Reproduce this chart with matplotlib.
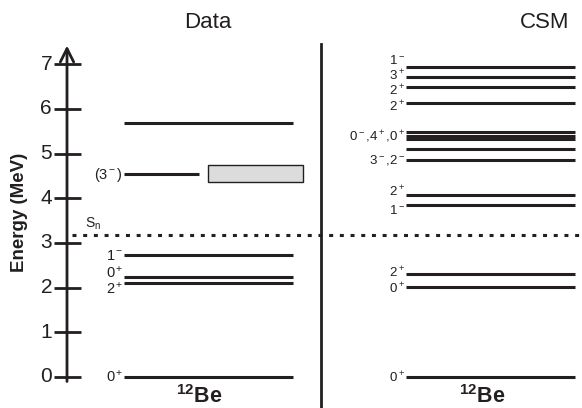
import matplotlib.pyplot as plt
from matplotlib.patches import Rectangle

plt.rcParams['font.family'] = ['Liberation Sans', 'DejaVu Sans']
plt.rcParams['mathtext.fontset'] = 'custom'
plt.rcParams['mathtext.rm'] = 'Liberation Sans'
plt.rcParams['mathtext.it'] = 'Liberation Sans:italic'
plt.rcParams['mathtext.bf'] = 'Liberation Sans:bold'

# measured levels of 12Be (MeV)
data_energy = [0.0, 2.10, 2.23, 2.72, 4.54, 5.69]
data_tags = ['0$^+$', '2$^+$', '0$^+$', '1$^-$', '(3$^-$)', '']
data_band = (4.36, 4.75)   # broad state drawn as a box

# CSM calculation (MeV)
csm_energy = [0.0, 2.01, 2.31, 3.86, 4.08, 4.85, 5.10, 5.33, 5.40, 5.48,
              6.13, 6.50, 6.72, 6.93]
csm_tags = ['0$^+$', '0$^+$', '2$^+$', '1$^-$', '2$^+$', '3$^-$,2$^-$',
            '0$^-$,4$^+$,0$^+$', '2$^+$', '2$^+$', '3$^+$', '1$^-$']
csm_tag_energy = [0.0, 2.01, 2.31, 3.86, 4.08, 4.85, 5.33, 6.13, 6.50, 6.72, 6.93]

s_n = 3.17
yticks = [0, 1, 2, 3, 4, 5, 6, 7]

# layout (pixels)
data_tag_drop = [5, 10, 0, 5, 5, 0]
csm_tag_drop = [5, 6, 4, 9, 2, 3, 2, 8, 9, 4, -3]
px_per_mev = 44.67
zero_px = 377

fig = plt.figure(figsize=(5.82, 4.08), dpi=100)
ax = fig.add_axes([0, 0, 1, 1])
ax.set_xlim(0, 582)
ax.set_ylim(-(408 - zero_px) / px_per_mev, zero_px / px_per_mev)
ax.axis('off')

lw = 2.2

# energy axis with arrow
ax.annotate('', xy=(67, 7.42), xytext=(67, -0.1),
            arrowprops=dict(arrowstyle='->', lw=2, color='#231f20',
                            mutation_scale=24, shrinkA=0, shrinkB=0))
for t in yticks:
    ax.plot([54, 81], [t, t], color='#231f20', lw=2, solid_capstyle='butt')
    ax.text(52, t, str(t), ha='right', va='center', fontsize=15, color='#231f20')
ax.text(20, 3.68, 'Energy (MeV)', rotation=90, ha='center', va='center',
        fontsize=13.5, fontweight='bold', color='#231f20')

# divider
ax.plot([321, 321], [-1, 7.45], color='#231f20', lw=2)

# neutron threshold
ax.plot([72, 582], [s_n, s_n], color='#231f20', lw=lw, linestyle=(0, (1.3, 2.2)))
ax.text(85, 3.34, 'S$_\\mathrm{n}$', ha='left', va='baseline', fontsize=10,
        color='#231f20')

# data column
for e, tag, drop in zip(data_energy, data_tags, data_tag_drop):
    x1 = 199 if tag.startswith('(') else 293
    ax.plot([124, x1], [e, e], color='#231f20', lw=lw, solid_capstyle='butt')
    if tag:
        ax.annotate(tag, (123, e), xytext=(0, -drop), textcoords='offset pixels',
                    ha='right', va='baseline', fontsize=10.5, color='#231f20')
ax.add_patch(Rectangle((208, data_band[0]), 95, data_band[1] - data_band[0],
                       facecolor='#dcdcdc', edgecolor='#231f20', lw=1))

# CSM column
for e in csm_energy:
    ax.plot([406, 575], [e, e], color='#231f20', lw=lw, solid_capstyle='butt')
for tag, e, drop in zip(csm_tags, csm_tag_energy, csm_tag_drop):
    ax.annotate(tag, (405, e), xytext=(0, -drop), textcoords='offset pixels',
                ha='right', va='baseline', fontsize=9.5, color='#231f20')

# titles and nucleus labels
ax.text(208, (zero_px - 28) / px_per_mev, 'Data', ha='center', va='baseline',
        fontsize=16, color='#231f20')
ax.text(545, (zero_px - 28) / px_per_mev, 'CSM', ha='center', va='baseline',
        fontsize=16, color='#231f20')
for xc in (199, 482):
    ax.text(xc, (zero_px - 403) / px_per_mev, '$^{\\mathbf{12}}$Be', ha='center',
            va='baseline', fontsize=15.5, fontweight='bold', color='#231f20')

fig.savefig('out.png', dpi=100)
